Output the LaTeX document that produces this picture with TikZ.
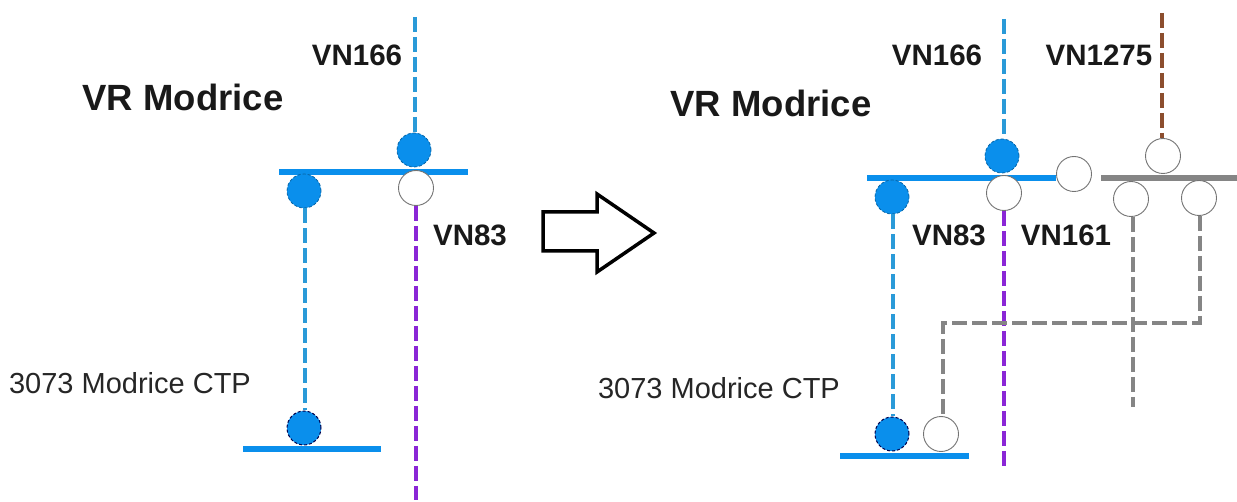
\documentclass[tikz,border=0pt]{standalone}
\usepackage{fontspec}
\setmainfont{Liberation Sans}
\definecolor{busblue}{HTML}{0A8FEC}
\definecolor{vnblue}{HTML}{2A9AD8}
\definecolor{vnpurple}{HTML}{8A26D6}
\definecolor{vnbrown}{HTML}{8C4E2E}
\definecolor{vngray}{HTML}{858585}
\tikzset{
  fullnode/.style={circle,minimum size=34pt,inner sep=0pt,fill=busblue,draw=busblue!70!black,line width=0.8pt,densely dashed},
  fullnodeb/.style={circle,minimum size=34pt,inner sep=0pt,fill=busblue,draw=black!70!blue,line width=1pt,densely dashed},
  opennode/.style={circle,minimum size=35pt,inner sep=0pt,fill=white,draw=black!55,line width=0.9pt},
  busline/.style={line width=6.5pt},
  lowbus/.style={line width=5.5pt},
  vnline/.style={line width=3.6pt,dash pattern=on 15pt off 5pt},
  vnlabel/.style={font=\fontsize{29.5}{31}\selectfont\bfseries,text=black!90,inner sep=0pt},
  titlelabel/.style={font=\fontsize{36.5}{39}\selectfont\bfseries,text=black!90,inner sep=0pt},
  stationlabel/.style={font=\fontsize{29}{31}\selectfont,text=black!85,inner sep=0pt}
}
\begin{document}
\begin{tikzpicture}[x=1pt,y=-1pt]
\useasboundingbox (0,0) rectangle (1237,502);
% ---- left
\coordinate (la) at (279,172); \coordinate (lb) at (468,172);
\coordinate (lc) at (243,449); \coordinate (ld) at (381,449);
\coordinate (ltop) at (415,17); \coordinate (lbot) at (416,500);
\coordinate (lmid) at (305,300);
\draw[busline,busblue] (la) -- (lb);
\draw[lowbus,busblue] (lc) -- (ld);
\node[fullnode] (l1) at (414,150) {};
\node[fullnode] (l2) at (304,191) {};
\node[opennode] (l3) at (416,188) {};
\node[fullnodeb] (l4) at (304,428) {};
\draw[vnline,vnblue] (ltop) -- (ltop |- l1.north);
\draw[vnline,vnblue] (lmid |- l2.south) -- (lmid |- l4.north);
\draw[vnline,vnpurple] (lbot |- l3.south) -- (lbot);
\node[titlelabel] (lt) at (183,97) {VR Modrice};
\node[vnlabel] (l166) at (357,55) {VN166};
\node[vnlabel] (l83) at (470,235) {VN83};
\node[stationlabel] (ls) at (130,383) {3073 Modrice CTP};
% ---- block arrow
\coordinate (a1) at (543,212); \coordinate (a2) at (597,212); \coordinate (a3) at (597,194);
\coordinate (a4) at (654,233); \coordinate (a5) at (597,272); \coordinate (a6) at (597,251);
\coordinate (a7) at (543,251);
\draw[line width=3.5pt,black,line join=miter,fill=white] (a1) -- (a2) -- (a3) -- (a4) -- (a5) -- (a6) -- (a7) -- cycle;
% ---- right
\coordinate (ra) at (867,178); \coordinate (rb) at (1056,178);
\coordinate (rc) at (840,456); \coordinate (rd) at (969,456);
\coordinate (re) at (1101,178); \coordinate (rf) at (1237,178);
\coordinate (rtop) at (1004,19); \coordinate (rbot) at (1004,467);
\coordinate (rbrown) at (1162,13);
\coordinate (rg) at (1133,407);
\coordinate (rh) at (1200,323); \coordinate (ri) at (943,323);
\coordinate (rmid) at (893,300);
\draw[busline,busblue] (ra) -- (rb);
\draw[lowbus,busblue] (rc) -- (rd);
\draw[busline,vngray] (re) -- (rf);
\node[fullnode] (r1) at (1002,156) {};
\node[fullnode] (r2) at (892,197) {};
\node[opennode] (r3) at (1004,193) {};
\node[opennode] (r5) at (1074,174) {};
\node[opennode] (r6) at (1163,156) {};
\node[opennode] (r7) at (1131,199) {};
\node[opennode] (r8) at (1199,198) {};
\node[fullnodeb] (r4) at (892,434) {};
\node[opennode] (r9) at (941,434) {};
\draw[vnline,vnblue] (rtop) -- (rtop |- r1.north);
\draw[vnline,vnblue] (rmid |- r2.south) -- (rmid |- r4.north);
\draw[vnline,vnpurple] (rbot |- r3.south) -- (rbot);
\draw[vnline,vnbrown] (rbrown) -- (rbrown |- r6.north);
\draw[vnline,vngray] (rg |- r7.south) -- (rg);
\draw[vnline,vngray] (rh |- r8.south) -- (rh) -- (ri) -- (ri |- r9.north);
\node[titlelabel] (rt) at (771,103) {VR Modrice};
\node[vnlabel] (r166) at (937,55) {VN166};
\node[vnlabel] (r1275) at (1099,55) {VN1275};
\node[vnlabel] (r83) at (949,235) {VN83};
\node[vnlabel] (r161) at (1066,235) {VN161};
\node[stationlabel] (rs) at (719,388) {3073 Modrice CTP};
\end{tikzpicture}
\end{document}
